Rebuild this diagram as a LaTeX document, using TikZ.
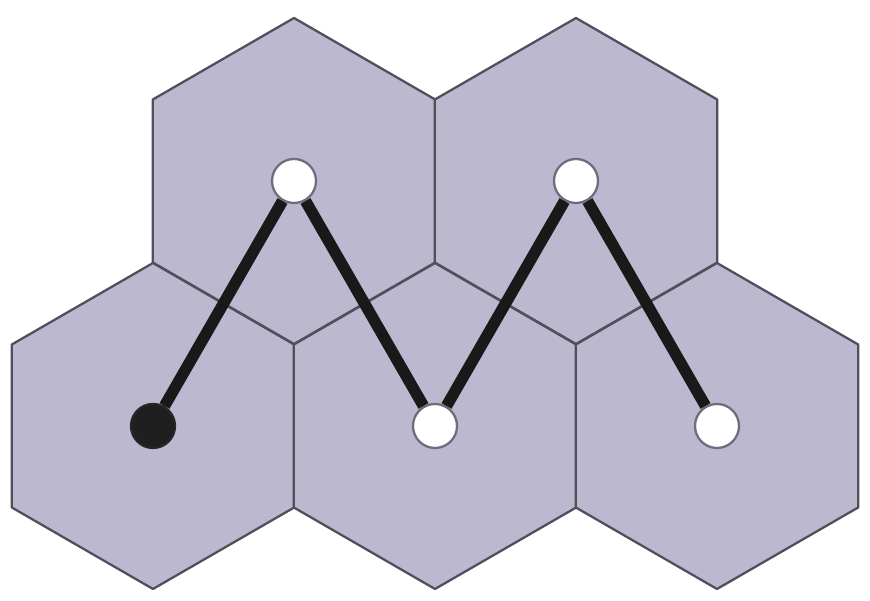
\documentclass[tikz,border=0pt]{standalone}
\usepackage{tikz}
\usetikzlibrary{positioning,calc}
\definecolor{cellfill}{RGB}{187,184,207}
\definecolor{celledge}{RGB}{80,79,92}
\definecolor{dotedge}{RGB}{110,108,125}
\tikzset{
  hexcell/.style={draw=celledge,fill=cellfill,line width=1.3pt,line join=round},
  site/.style={draw=dotedge,fill=white,circle,line width=1.3pt,minimum size=0.88cm,inner sep=0pt},
  start/.style={site,draw=black!85,fill=black!88},
  walk/.style={line width=6.5pt,black!90}
}
\begin{document}
\begin{tikzpicture}
    \useasboundingbox (0,0) rectangle (17.4,12.02);

    % Cell centres
    \coordinate (c1) at (3.06,3.5);
    \coordinate (c2) at (8.7,3.5);
    \coordinate (c3) at (14.34,3.5);
    \coordinate (c4) at (5.88,8.4);
    \coordinate (c5) at (11.52,8.4);

    % Hexagonal cells
    \foreach \c in {c1,c2,c3,c4,c5}
        \draw[hexcell] (\c) +(30:3.26) -- +(90:3.26) -- +(150:3.26) -- +(210:3.26)
            -- +(270:3.26) -- +(330:3.26) -- cycle;

    % Sites
    \node[start] (s1) at (c1) {};
    \node[site] (s2) at (c4) {};
    \node[site] (s3) at (c2) {};
    \node[site] (s4) at (c5) {};
    \node[site] (s5) at (c3) {};

    % Walk
    \draw[walk] (s1) -- (s2) -- (s3) -- (s4) -- (s5);
\end{tikzpicture}
\end{document}
